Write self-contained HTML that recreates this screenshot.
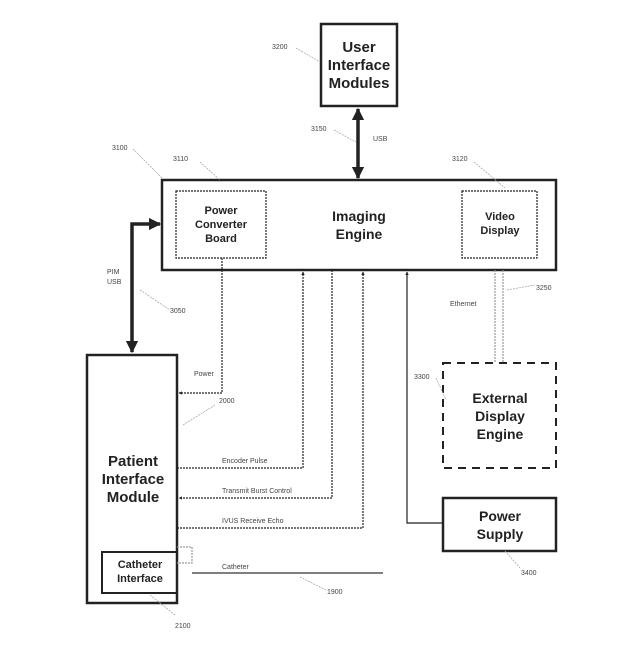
<!DOCTYPE html>
<html><head><style>body{margin:0;background:#fff}svg{display:block}</style></head><body>
<svg width="636" height="660" viewBox="0 0 636 660" xmlns="http://www.w3.org/2000/svg" font-family="Liberation Sans, sans-serif">
<defs>
<marker id="a" viewBox="0 0 10 10" refX="9" refY="5" markerWidth="3.5" markerHeight="3.5" orient="auto-start-reverse"><path d="M0,0L10,5L0,10z" fill="#222"/></marker>
<marker id="b" viewBox="0 0 10 10" refX="9" refY="5" markerWidth="3" markerHeight="3" orient="auto-start-reverse"><path d="M0,0L10,5L0,10z" fill="#222"/></marker>
</defs>
<g fill="none" stroke="#222">
<rect x="321" y="24" width="76" height="82" stroke-width="2.5"/>
<rect x="162" y="180" width="394" height="90" stroke-width="2.5"/>
<rect x="176" y="191" width="90" height="67" stroke-width="1.2" stroke-dasharray="2,1"/>
<rect x="462" y="191" width="75" height="67" stroke-width="1.2" stroke-dasharray="2,1"/>
<rect x="87" y="355" width="90" height="248" stroke-width="2.5"/>
<rect x="102" y="552" width="75" height="41" stroke-width="2"/>
<rect x="443" y="363" width="113" height="105" stroke-width="2" stroke-dasharray="8,6"/>
<rect x="443" y="498" width="113" height="53" stroke-width="2.5"/>
<line x1="358" y1="109" x2="358" y2="178" stroke-width="3.5" marker-start="url(#a)" marker-end="url(#a)"/>
<polyline points="132,352 132,224 160,224" stroke-width="3.5" marker-start="url(#a)" marker-end="url(#a)"/>
<g stroke-width="1.2" stroke-dasharray="2,1">
<polyline points="222,258 222,393 179,393" marker-end="url(#b)"/>
<polyline points="177,468 303,468 303,272" marker-end="url(#b)"/>
<polyline points="332,270 332,498 179,498" marker-end="url(#b)"/>
<polyline points="177,528 363,528 363,272" marker-end="url(#b)"/>
<line x1="495" y1="270" x2="495" y2="363" stroke="#999"/>
<line x1="503" y1="270" x2="503" y2="363" stroke="#999"/>
<polyline points="177,547 192,547 192,563 177,563" stroke="#999"/>
</g>
<polyline points="443,523 407,523 407,272" stroke-width="1.2" marker-end="url(#b)"/>
<line x1="192" y1="573" x2="383" y2="573" stroke-width="1.5" stroke="#555"/>
<g stroke="#aaa" stroke-width="0.8" stroke-dasharray="2,1">
<line x1="296" y1="48" x2="320" y2="62"/>
<line x1="334" y1="130" x2="356" y2="142"/>
<line x1="133" y1="149" x2="162" y2="178"/>
<line x1="200" y1="162" x2="220" y2="180"/>
<line x1="474" y1="162" x2="505" y2="188"/>
<line x1="140" y1="290" x2="170" y2="310"/>
<line x1="507" y1="290" x2="535" y2="285"/>
<line x1="436" y1="378" x2="446" y2="400"/>
<line x1="183" y1="425" x2="215" y2="405"/>
<line x1="300" y1="577" x2="326" y2="590"/>
<line x1="150" y1="595" x2="175" y2="615"/>
<line x1="505" y1="551" x2="520" y2="568"/>
</g>
</g>
<g font-weight="bold" fill="#222" text-anchor="middle">
<text x="359" y="52" font-size="15">User</text>
<text x="359" y="70" font-size="15">Interface</text>
<text x="359" y="88" font-size="15">Modules</text>
<text x="359" y="221" font-size="14">Imaging</text>
<text x="359" y="239" font-size="14">Engine</text>
<text x="221" y="214" font-size="11">Power</text>
<text x="221" y="228" font-size="11">Converter</text>
<text x="221" y="242" font-size="11">Board</text>
<text x="500" y="220" font-size="11">Video</text>
<text x="500" y="234" font-size="11">Display</text>
<text x="133" y="466" font-size="15">Patient</text>
<text x="133" y="484" font-size="15">Interface</text>
<text x="133" y="502" font-size="15">Module</text>
<text x="140" y="568" font-size="11">Catheter</text>
<text x="140" y="582" font-size="11">Interface</text>
<text x="500" y="403" font-size="14">External</text>
<text x="500" y="421" font-size="14">Display</text>
<text x="500" y="439" font-size="14">Engine</text>
<text x="500" y="521" font-size="14">Power</text>
<text x="500" y="539" font-size="14">Supply</text>
</g>
<g font-size="7" fill="#444">
<text x="272" y="49">3200</text>
<text x="311" y="131">3150</text>
<text x="373" y="141">USB</text>
<text x="112" y="150">3100</text>
<text x="173" y="161">3110</text>
<text x="452" y="161">3120</text>
<text x="107" y="274">PIM</text>
<text x="107" y="284">USB</text>
<text x="170" y="313">3050</text>
<text x="536" y="290">3250</text>
<text x="450" y="306">Ethernet</text>
<text x="414" y="379">3300</text>
<text x="194" y="376">Power</text>
<text x="219" y="403">2000</text>
<text x="222" y="463">Encoder Pulse</text>
<text x="222" y="493">Transmit Burst Control</text>
<text x="222" y="523">IVUS Receive Echo</text>
<text x="222" y="569">Catheter</text>
<text x="327" y="594">1900</text>
<text x="175" y="628">2100</text>
<text x="521" y="575">3400</text>
</g>
</svg>
</body></html>
